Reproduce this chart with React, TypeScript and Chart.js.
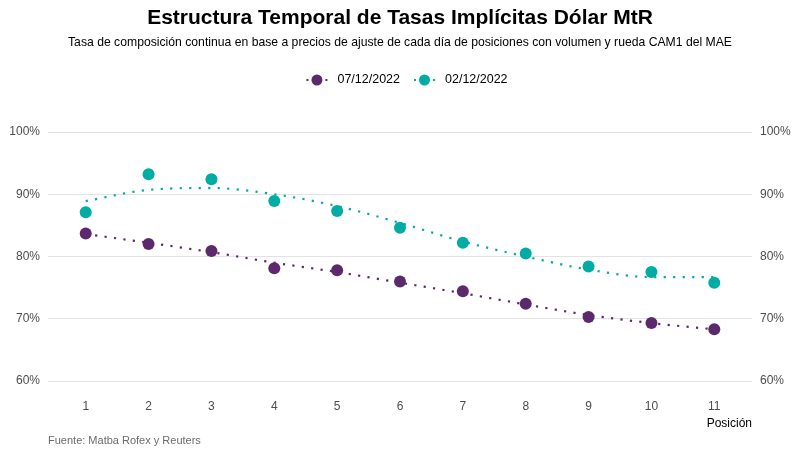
import { useEffect, useRef } from 'react';
import { Chart, registerables } from 'chart.js';

Chart.register(...registerables);

// Datos
const POSITIONS = [1, 2, 3, 4, 5, 6, 7, 8, 9, 10, 11];
const Y_TICKS = [60, 70, 80, 90, 100];
const SERIES_LABELS = ['07/12/2022', '02/12/2022'];
const RATES_0712 = [83.7, 82.0, 80.9, 78.1, 77.8, 76.0, 74.4, 72.4, 70.3, 69.3, 68.3];
const RATES_0212 = [87.1, 93.2, 92.4, 88.9, 87.3, 84.6, 82.2, 80.5, 78.4, 77.5, 75.8];
const TREND_0712 = [83.6, 82.2, 80.7, 79.0, 77.5, 75.8, 74.1, 72.3, 70.6, 69.3, 68.3];
const TREND_0212 = [88.9, 90.7, 91.0, 90.0, 88.1, 85.4, 82.4, 80.0, 77.9, 76.7, 76.7];

const PURPLE = '#5c2a6c';
const TEAL = '#00aca4';
const COLORS = [PURPLE, TEAL];
const FONT = "'Liberation Sans', Arial, sans-serif";
const TICK = { color: '#4d4d4d', font: { family: FONT, size: 12 } };

const TITLE = 'Estructura Temporal de Tasas Implícitas Dólar MtR';
const SUBTITLE =
  'Tasa de composición continua en base a precios de ajuste de cada día de posiciones con volumen y rueda CAM1 del MAE';
const CAPTION = 'Fuente: Matba Rofex y Reuters';

const toPoints = (values: number[]) => POSITIONS.map((x, i) => ({ x, y: values[i] }));

// titles, legend and caption drawn on the canvas
const textPlugin = {
  id: 'textPlugin',
  afterDraw(chart: Chart) {
    const { ctx, width, chartArea } = chart;
    ctx.save();
    ctx.textBaseline = 'middle';
    ctx.textAlign = 'center';
    ctx.fillStyle = '#000';
    ctx.font = `bold 21px ${FONT}`;
    ctx.fillText(TITLE, width / 2, 18);
    ctx.font = `12.2px ${FONT}`;
    ctx.fillText(SUBTITLE, width / 2, 43);

    // legend
    ctx.font = `12.5px ${FONT}`;
    const gapItems = 14;
    const symbolW = 21;
    const widths = SERIES_LABELS.map(l => ctx.measureText(l).width);
    const total = widths.reduce((a, w) => a + symbolW + 10 + w, 0) + gapItems;
    let x = 407 - total / 2;
    const y = 80;
    SERIES_LABELS.forEach((label, i) => {
      const cx = x + symbolW / 2;
      ctx.fillStyle = COLORS[i];
      ctx.fillRect(cx - 10.5, y - 1, 2, 2);
      ctx.fillRect(cx + 8.5, y - 1, 2, 2);
      ctx.beginPath();
      ctx.arc(cx, y, 5.5, 0, Math.PI * 2);
      ctx.fill();
      ctx.fillStyle = '#000';
      ctx.textAlign = 'left';
      ctx.fillText(label, x + symbolW + 10, y);
      x += symbolW + 10 + widths[i] + gapItems;
    });

    ctx.font = `11px ${FONT}`;
    ctx.fillStyle = '#6b6b6b';
    ctx.textAlign = 'left';
    ctx.fillText(CAPTION, chartArea.left, 441);
    ctx.restore();
  },
};

export default function App() {
  const canvasRef = useRef<HTMLCanvasElement | null>(null);
  const chartRef = useRef<Chart | null>(null);

  useEffect(() => {
    if (!canvasRef.current) return;
    if (chartRef.current) chartRef.current.destroy();

    const trendDs = (values: number[], color: string, label: string) => ({
      type: 'line' as const,
      label,
      data: toPoints(values),
      borderColor: color,
      borderWidth: 2.2,
      borderDash: [2.2, 7.3],
      pointRadius: 0,
      fill: false,
      cubicInterpolationMode: 'monotone' as const,
      order: 2,
    });
    const pointDs = (values: number[], color: string, label: string) => ({
      type: 'line' as const,
      label,
      data: toPoints(values),
      showLine: false,
      pointRadius: 6,
      pointHoverRadius: 6,
      pointBackgroundColor: color,
      pointBorderWidth: 0,
      borderColor: color,
      order: 0,
    });

    const yAxis = (position: 'left' | 'right', showGrid: boolean) => ({
      type: 'linear' as const,
      position,
      min: 60,
      max: 100,
      afterBuildTicks: (axis: any) => {
        axis.ticks = Y_TICKS.map(v => ({ value: v }));
      },
      afterFit: (axis: any) => {
        axis.width = 48;
      },
      ticks: { ...TICK, padding: 8, callback: (v: any) => `${v}%` },
      grid: { display: showGrid, color: '#e3e3e3', lineWidth: 1, drawTicks: false },
      border: { display: false },
    });

    chartRef.current = new Chart(canvasRef.current, {
      type: 'line',
      data: {
        datasets: [
          pointDs(RATES_0712, PURPLE, SERIES_LABELS[0]),
          pointDs(RATES_0212, TEAL, SERIES_LABELS[1]),
          trendDs(TREND_0712, PURPLE, SERIES_LABELS[0]),
          trendDs(TREND_0212, TEAL, SERIES_LABELS[1]),
        ],
      },
      options: {
        animation: false,
        responsive: true,
        maintainAspectRatio: false,
        layout: { padding: { top: 132, bottom: 25, left: 0, right: 0 } },
        scales: {
          x: {
            type: 'linear',
            min: 0.4,
            max: 11.6,
            afterBuildTicks: (axis: any) => {
              axis.ticks = POSITIONS.map(v => ({ value: v }));
            },
            afterFit: (axis: any) => {
              axis.height = 51;
            },
            ticks: { ...TICK, padding: 18, callback: (v: any) => String(v) },
            grid: { display: false, drawTicks: false },
            border: { display: false },
            title: {
              display: true,
              text: 'Posición',
              align: 'end',
              color: '#000',
              font: { family: FONT, size: 12 },
              padding: { top: 0, bottom: 1 },
            },
          },
          y: yAxis('left', true),
          y2: yAxis('right', false),
        },
        plugins: {
          legend: { display: false },
          tooltip: { enabled: false },
          title: { display: false },
        },
      },
      plugins: [textPlugin],
    });

    return () => {
      if (chartRef.current) {
        chartRef.current.destroy();
        chartRef.current = null;
      }
    };
  }, []);

  return (
    <div style={{ position: 'fixed', left: 0, top: 0, width: '800px', height: '457px', background: '#fff' }}>
      <canvas ref={canvasRef} aria-label="Estructura temporal de tasas implícitas" />
    </div>
  );
}
